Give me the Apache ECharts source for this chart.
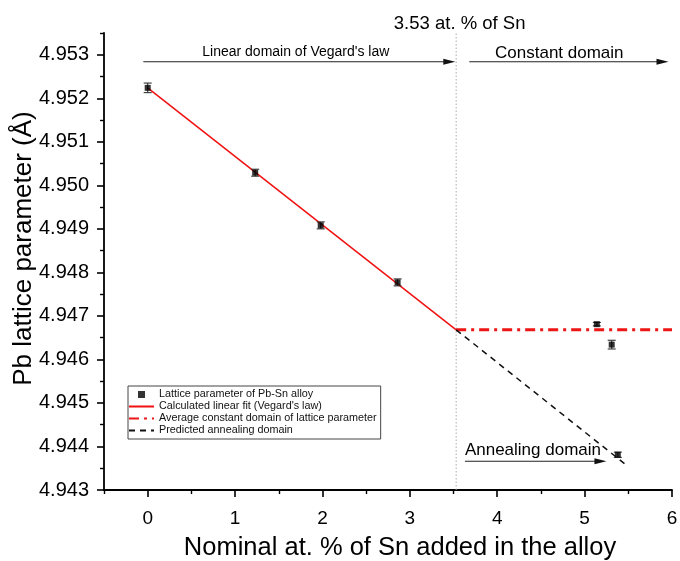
<!DOCTYPE html>
<html><head><meta charset="utf-8">
<script src="https://cdn.jsdelivr.net/npm/echarts@6/dist/echarts.min.js"></script>
<style>html,body{margin:0;padding:0;background:#fff}#c{width:680px;height:561px}</style>
</head><body><div id="c"></div>
<script>
// ---- data ----
const snAt       = [0, 1.23, 1.98, 2.86, 5.14, 5.31, 5.38];
const latticeA   = [4.95224, 4.95029, 4.94908, 4.94777, 4.94681, 4.94634, 4.94381];
const latticeErr = [0.00011, 0.00008, 0.00008, 0.00008, 0.00004, 0.00010, 0.00006];
const fitX    = [0, 3.53];     const fitY    = [4.95224, 4.94668];
const constX  = [3.53, 6];     const constY  = [4.94668, 4.94668];
const annealX = [3.53, 5.46];  const annealY = [4.94668, 4.9436];
const limitX  = [3.53, 3.53];  const limitY  = [4.943, 4.9535];
const xTicks      = [0, 1, 2, 3, 4, 5, 6];
const xMinorTicks = [-0.5, 0.5, 1.5, 2.5, 3.5, 4.5, 5.5];
const yTicks      = [4.943, 4.944, 4.945, 4.946, 4.947, 4.948, 4.949, 4.950, 4.951, 4.952, 4.953];
const yMinorTicks = [4.9435, 4.9445, 4.9455, 4.9465, 4.9475, 4.9485, 4.9495, 4.9505, 4.9515, 4.9525, 4.9535];
const seriesNames = ['Lattice parameter of Pb-Sn alloy', "Calculated linear fit (Vegard's law)",
                     'Average constant domain of lattice parameter', 'Predicted annealing domain'];
// annotation arrows (data coords)
const arrowStartX = [-0.05, 3.68, 3.63];
const arrowEndX   = [3.52, 5.96, 5.25];
const arrowY      = [4.95284, 4.95284, 4.94366];
// annotation texts (data coords)
const noteText = ['3.53 at. % of Sn', "Linear domain of Vegard's law", 'Constant domain', 'Annealing domain'];
const noteX    = [3.57, 1.695, 4.71, 3.63];
const noteY    = [4.95371, 4.95307, 4.95303, 4.94392];
const noteSize = [18.5, 14, 17, 17];
const noteAlign = ['center', 'center', 'center', 'left'];

const FONT = '"Liberation Sans", Arial, sans-serif';
const chart = echarts.init(document.getElementById('c'), null, {renderer: 'canvas'});

const axisLineStyle = {color: '#000', width: 1.8};
const noSym = {color: 'rgba(0,0,0,0)', borderColor: 'rgba(0,0,0,0)', borderWidth: 0};
chart.setOption({
  animation: false,
  backgroundColor: '#fff',
  grid: {left: 104, right: 8, top: 33, bottom: 71, containLabel: false, outerBoundsMode: 'none'},
  legend: {
    orient: 'vertical', left: 128, top: 386, padding: [3, 4, 3, 0], itemGap: 1,
    itemWidth: 25, itemHeight: 7, borderColor: '#444', borderWidth: 1, selectedMode: false,
    textStyle: {fontSize: 10.8, fontFamily: FONT, color: '#111'},
    data: [{name: seriesNames[0], icon: 'path://M0,0h10v10h-10z'},
           {name: seriesNames[1], itemStyle: noSym},
           {name: seriesNames[2], itemStyle: noSym},
           {name: seriesNames[3], itemStyle: noSym}]
  },
  xAxis: [{
    type: 'value', min: -0.5, max: 6,
    name: 'Nominal at. % of Sn added in the alloy', nameLocation: 'middle', nameGap: 45,
    nameTextStyle: {fontSize: 25.5, fontFamily: FONT, color: '#000', padding: [0, 0, 0, 24]},
    axisLine: {show: true, onZero: false, lineStyle: axisLineStyle},
    axisTick: {show: true, inside: false, length: 7, lineStyle: {color: '#000', width: 1.6}, customValues: xTicks},
    axisLabel: {show: true, margin: 19, fontSize: 19, fontFamily: FONT, color: '#000', customValues: xTicks},
    splitLine: {show: false}
  }, {
    type: 'value', min: -0.5, max: 6, position: 'bottom',
    axisLine: {show: false, onZero: false}, axisLabel: {show: false}, splitLine: {show: false},
    axisTick: {show: true, length: 4, lineStyle: {color: '#000', width: 1.4}, customValues: xMinorTicks}
  }],
  yAxis: [{
    type: 'value', min: 4.943, max: 4.9535,
    name: 'Pb lattice parameter (Å)', nameLocation: 'middle', nameGap: 67, nameMoveOverlap: false,
    nameTextStyle: {fontSize: 26, fontFamily: FONT, color: '#000', padding: [0, 0, 0, 26]},
    axisLine: {show: true, onZero: false, lineStyle: axisLineStyle},
    axisTick: {show: true, length: 7, lineStyle: {color: '#000', width: 1.6}, customValues: yTicks},
    axisLabel: {show: true, margin: 15, fontSize: 20, fontFamily: FONT, color: '#000',
                customValues: yTicks, formatter: v => Number(v).toFixed(3)},
    splitLine: {show: false}
  }, {
    type: 'value', min: 4.943, max: 4.9535, position: 'left',
    axisLine: {show: false, onZero: false}, axisLabel: {show: false}, splitLine: {show: false},
    axisTick: {show: true, length: 4, lineStyle: {color: '#000', width: 1.4}, customValues: yMinorTicks}
  }],
  series: [
    {type: 'line', name: 'limit', data: limitX.map((x, i) => [x, limitY[i]]), symbol: 'none', silent: true,
     lineStyle: {color: '#aaa', width: 1, type: [1.5, 2]}, z: 1},
    {type: 'line', name: seriesNames[1], data: fitX.map((x, i) => [x, fitY[i]]), symbol: 'none',
     lineStyle: {color: '#f01010', width: 1.5}, itemStyle: {color: '#f01010'}, z: 2},
    {type: 'line', name: seriesNames[2], data: constX.map((x, i) => [x, constY[i]]), symbol: 'none',
     lineStyle: {color: '#ee1515', width: 3, type: [10, 5, 3, 5]}, itemStyle: {color: '#ee1515'}, z: 2},
    {type: 'line', name: seriesNames[3], data: annealX.map((x, i) => [x, annealY[i]]), symbol: 'none',
     lineStyle: {color: '#111', width: 1.5, type: [6, 5]}, itemStyle: {color: '#111'}, z: 2},
    {type: 'custom', name: 'errors', z: 3, silent: true,
     data: snAt.map((x, i) => [x, latticeA[i] - latticeErr[i], latticeA[i] + latticeErr[i]]),
     encode: {x: 0, y: [1, 2]},
     renderItem: (params, api) => {
       const x = api.value(0);
       const lo = api.coord([x, api.value(1)]);
       const hi = api.coord([x, api.value(2)]);
       const w = 4, st = {stroke: '#333', lineWidth: 1.1};
       return {type: 'group', children: [
         {type: 'line', shape: {x1: lo[0], y1: lo[1], x2: hi[0], y2: hi[1]}, style: st},
         {type: 'line', shape: {x1: lo[0] - w, y1: lo[1], x2: lo[0] + w, y2: lo[1]}, style: st},
         {type: 'line', shape: {x1: hi[0] - w, y1: hi[1], x2: hi[0] + w, y2: hi[1]}, style: st}
       ]};
     }},
    {type: 'scatter', name: seriesNames[0], data: snAt.map((x, i) => [x, latticeA[i]]),
     symbol: 'rect', symbolSize: 6, itemStyle: {color: '#000'}, z: 4},
    {type: 'custom', name: 'arrows', z: 3, silent: true,
     data: arrowStartX.map((x, i) => [x, arrowY[i], arrowEndX[i]]),
     encode: {x: [0, 2], y: 1},
     renderItem: (params, api) => {
       const p1 = api.coord([api.value(0), api.value(1)]);
       const p2 = api.coord([api.value(2), api.value(1)]);
       const L = 12, H = 3;
       return {type: 'group', children: [
         {type: 'line', shape: {x1: p1[0], y1: p1[1], x2: p2[0] - L + 1, y2: p2[1]}, style: {stroke: '#222', lineWidth: 1.2}},
         {type: 'polygon', shape: {points: [[p2[0] - L, p2[1] - H], [p2[0], p2[1]], [p2[0] - L, p2[1] + H]]}, style: {fill: '#111'}}
       ]};
     }},
    {type: 'custom', name: 'notes', z: 5, silent: true,
     data: noteX.map((x, i) => [x, noteY[i]]),
     renderItem: (params, api) => {
       const i = params.dataIndex;
       const p = api.coord([api.value(0), api.value(1)]);
       return {type: 'text', x: p[0], y: p[1], style: {
         text: noteText[i], fontSize: noteSize[i], fontFamily: FONT, fill: '#000',
         align: noteAlign[i], verticalAlign: 'middle'}};
     }}
  ]
});
</script></body></html>
